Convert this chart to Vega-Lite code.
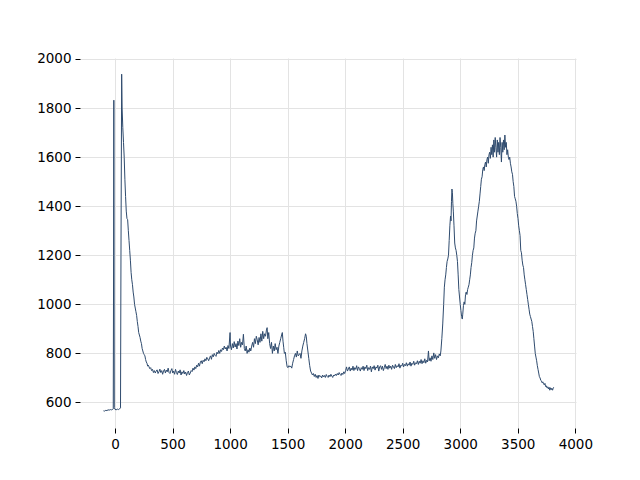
{
"$schema": "https://vega.github.io/schema/vega-lite/v6.json",
"width": 496, "height": 370,
"autosize": {"type": "none"},
"padding": {"left": 80, "top": 58, "right": 64, "bottom": 52},
"background": "white",
"config": {"view": {"stroke": null}, "font": "DejaVu Sans"},
"data": {"values": [
{"x":-100,"y":566},{"x":-90,"y":565},{"x":-80,"y":568},{"x":-70,"y":567},{"x":-60,"y":570},{"x":-50,"y":569},{"x":-40,"y":571},{"x":-30,"y":570},{"x":-20,"y":572},{"x":-15,"y":574},{"x":-12,"y":1200},{"x":-10,"y":1832},{"x":-8,"y":1200},{"x":-6,"y":580},
{"x":0,"y":572},{"x":10,"y":570},{"x":20,"y":573},{"x":30,"y":571},{"x":40,"y":574},{"x":48,"y":578},{"x":52,"y":1200},{"x":58,"y":1938},{"x":62,"y":1800},{"x":68,"y":1720},{"x":74,"y":1660},{"x":80,"y":1600},{"x":86,"y":1510},{"x":92,"y":1440},{"x":98,"y":1380},{"x":104,"y":1350},{"x":110,"y":1345},{"x":116,"y":1300},{"x":122,"y":1260},{"x":128,"y":1220},{"x":134,"y":1180},{"x":140,"y":1130},{"x":146,"y":1100},{"x":152,"y":1080},{"x":158,"y":1050},{"x":164,"y":1030},{"x":170,"y":1000},{"x":176,"y":985},{"x":182,"y":970},{"x":188,"y":955},{"x":194,"y":930},{"x":200,"y":910},{"x":206,"y":885},{"x":212,"y":875},{"x":218,"y":865},{"x":224,"y":850},{"x":230,"y":840},{"x":236,"y":820},{"x":242,"y":810},{"x":248,"y":800},{"x":254,"y":795},{"x":260,"y":790},{"x":266,"y":775},{"x":272,"y":765},{"x":278,"y":760},{"x":284,"y":748},{"x":290,"y":752},{"x":296,"y":745},{"x":302,"y":738},{"x":310,"y":742},{"x":318,"y":730},{"x":326,"y":735},{"x":334,"y":722},{"x":342,"y":730},{"x":350,"y":720},{"x":358,"y":728},{"x":366,"y":733},{"x":374,"y":718},{"x":382,"y":725},{"x":390,"y":736},{"x":398,"y":722},{"x":406,"y":730},{"x":414,"y":715},{"x":422,"y":728},{"x":430,"y":735},{"x":438,"y":720},{"x":446,"y":732},{"x":454,"y":725},{"x":462,"y":740},{"x":470,"y":722},{"x":478,"y":718},{"x":486,"y":730},{"x":494,"y":738},{"x":502,"y":720},{"x":510,"y":728},{"x":518,"y":715},{"x":526,"y":735},{"x":534,"y":722},{"x":542,"y":714},{"x":550,"y":728},{"x":558,"y":720},{"x":566,"y":733},{"x":574,"y":712},{"x":582,"y":725},{"x":590,"y":718},{"x":598,"y":730},{"x":606,"y":716},{"x":614,"y":724},{"x":622,"y":710},{"x":630,"y":722},{"x":638,"y":728},{"x":646,"y":712},{"x":654,"y":720},{"x":662,"y":730},{"x":670,"y":726},{"x":678,"y":740},{"x":686,"y":732},{"x":694,"y":745},{"x":702,"y":738},{"x":710,"y":752},{"x":718,"y":745},{"x":726,"y":760},{"x":734,"y":748},{"x":742,"y":765},{"x":750,"y":770},{"x":758,"y":758},{"x":766,"y":772},{"x":774,"y":766},{"x":782,"y":778},{"x":790,"y":770},{"x":798,"y":784},{"x":806,"y":778},{"x":814,"y":770},{"x":822,"y":782},{"x":830,"y":790},{"x":838,"y":776},{"x":846,"y":795},{"x":854,"y":786},{"x":862,"y":800},{"x":870,"y":792},{"x":878,"y":788},{"x":886,"y":805},{"x":894,"y":798},{"x":902,"y":812},{"x":910,"y":800},{"x":918,"y":815},{"x":926,"y":808},{"x":934,"y":822},{"x":942,"y":815},{"x":950,"y":830},{"x":958,"y":818},{"x":966,"y":825},{"x":974,"y":810},{"x":982,"y":832},{"x":990,"y":820},{"x":1000,"y":885},{"x":1004,"y":830},{"x":1012,"y":815},{"x":1020,"y":840},{"x":1028,"y":822},{"x":1036,"y":848},{"x":1044,"y":826},{"x":1052,"y":840},{"x":1060,"y":818},{"x":1068,"y":850},{"x":1076,"y":832},{"x":1084,"y":860},{"x":1092,"y":825},{"x":1100,"y":845},{"x":1108,"y":835},{"x":1116,"y":878},{"x":1124,"y":820},{"x":1132,"y":810},{"x":1140,"y":830},{"x":1148,"y":800},{"x":1156,"y":815},{"x":1164,"y":805},{"x":1172,"y":822},{"x":1180,"y":810},{"x":1188,"y":830},{"x":1196,"y":845},{"x":1204,"y":825},{"x":1212,"y":860},{"x":1220,"y":840},{"x":1228,"y":870},{"x":1236,"y":855},{"x":1244,"y":835},{"x":1252,"y":865},{"x":1260,"y":845},{"x":1268,"y":880},{"x":1276,"y":850},{"x":1284,"y":890},{"x":1292,"y":860},{"x":1300,"y":880},{"x":1308,"y":870},{"x":1316,"y":895},{"x":1322,"y":905},{"x":1328,"y":860},{"x":1336,"y":885},{"x":1344,"y":840},{"x":1352,"y":820},{"x":1360,"y":845},{"x":1368,"y":800},{"x":1376,"y":830},{"x":1384,"y":810},{"x":1392,"y":840},{"x":1400,"y":815},{"x":1408,"y":825},{"x":1416,"y":800},{"x":1424,"y":830},{"x":1432,"y":845},{"x":1440,"y":860},{"x":1448,"y":875},{"x":1454,"y":885},{"x":1460,"y":850},{"x":1466,"y":825},{"x":1472,"y":800},{"x":1480,"y":805},{"x":1488,"y":770},{"x":1496,"y":745},{"x":1504,"y":742},{"x":1512,"y":750},{"x":1520,"y":745},{"x":1528,"y":748},{"x":1536,"y":740},{"x":1544,"y":760},{"x":1552,"y":775},{"x":1560,"y":790},{"x":1568,"y":800},{"x":1576,"y":785},{"x":1584,"y":810},{"x":1592,"y":790},{"x":1600,"y":795},{"x":1608,"y":800},{"x":1616,"y":780},{"x":1624,"y":810},{"x":1632,"y":830},{"x":1640,"y":845},{"x":1648,"y":860},{"x":1656,"y":880},{"x":1662,"y":870},{"x":1668,"y":840},{"x":1676,"y":810},{"x":1684,"y":780},{"x":1692,"y":750},{"x":1700,"y":728},{"x":1708,"y":720},{"x":1716,"y":712},{"x":1724,"y":718},{"x":1732,"y":706},{"x":1740,"y":715},{"x":1748,"y":702},{"x":1756,"y":710},{"x":1764,"y":698},{"x":1772,"y":712},{"x":1780,"y":705},{"x":1788,"y":708},{"x":1796,"y":700},{"x":1804,"y":712},{"x":1812,"y":704},{"x":1820,"y":710},{"x":1828,"y":702},{"x":1836,"y":714},{"x":1844,"y":706},{"x":1852,"y":702},{"x":1860,"y":712},{"x":1868,"y":705},{"x":1876,"y":715},{"x":1884,"y":708},{"x":1892,"y":702},{"x":1900,"y":712},{"x":1908,"y":708},{"x":1916,"y":716},{"x":1924,"y":710},{"x":1932,"y":718},{"x":1940,"y":712},{"x":1948,"y":722},{"x":1956,"y":715},{"x":1964,"y":710},{"x":1972,"y":720},{"x":1980,"y":714},{"x":1988,"y":725},{"x":1996,"y":718},{"x":2004,"y":730},{"x":2012,"y":745},{"x":2020,"y":728},{"x":2028,"y":736},{"x":2036,"y":745},{"x":2044,"y":728},{"x":2052,"y":740},{"x":2060,"y":732},{"x":2068,"y":748},{"x":2076,"y":730},{"x":2084,"y":742},{"x":2092,"y":735},{"x":2100,"y":750},{"x":2108,"y":730},{"x":2116,"y":745},{"x":2124,"y":738},{"x":2132,"y":728},{"x":2140,"y":742},{"x":2148,"y":735},{"x":2156,"y":748},{"x":2164,"y":730},{"x":2172,"y":745},{"x":2180,"y":738},{"x":2188,"y":752},{"x":2196,"y":730},{"x":2204,"y":742},{"x":2212,"y":735},{"x":2220,"y":748},{"x":2228,"y":725},{"x":2236,"y":745},{"x":2244,"y":738},{"x":2252,"y":750},{"x":2260,"y":732},{"x":2268,"y":745},{"x":2276,"y":740},{"x":2284,"y":752},{"x":2292,"y":728},{"x":2300,"y":745},{"x":2308,"y":750},{"x":2316,"y":735},{"x":2324,"y":748},{"x":2332,"y":730},{"x":2340,"y":742},{"x":2348,"y":755},{"x":2356,"y":738},{"x":2364,"y":748},{"x":2372,"y":735},{"x":2380,"y":752},{"x":2388,"y":740},{"x":2396,"y":748},{"x":2404,"y":735},{"x":2412,"y":752},{"x":2420,"y":745},{"x":2428,"y":738},{"x":2436,"y":755},{"x":2444,"y":742},{"x":2452,"y":750},{"x":2460,"y":745},{"x":2468,"y":758},{"x":2476,"y":740},{"x":2484,"y":752},{"x":2492,"y":748},{"x":2500,"y":760},{"x":2508,"y":745},{"x":2516,"y":755},{"x":2524,"y":750},{"x":2532,"y":762},{"x":2540,"y":748},{"x":2548,"y":758},{"x":2556,"y":752},{"x":2564,"y":765},{"x":2572,"y":748},{"x":2580,"y":760},{"x":2588,"y":755},{"x":2596,"y":768},{"x":2604,"y":752},{"x":2612,"y":762},{"x":2620,"y":758},{"x":2628,"y":770},{"x":2636,"y":755},{"x":2644,"y":768},{"x":2652,"y":760},{"x":2660,"y":775},{"x":2668,"y":758},{"x":2676,"y":770},{"x":2684,"y":762},{"x":2692,"y":778},{"x":2700,"y":760},{"x":2708,"y":772},{"x":2716,"y":765},{"x":2724,"y":810},{"x":2730,"y":770},{"x":2738,"y":782},{"x":2746,"y":768},{"x":2754,"y":790},{"x":2762,"y":775},{"x":2770,"y":802},{"x":2778,"y":780},{"x":2786,"y":795},{"x":2794,"y":775},{"x":2802,"y":790},{"x":2810,"y":782},{"x":2818,"y":798},{"x":2826,"y":790},{"x":2832,"y":810},{"x":2840,"y":860},{"x":2848,"y":920},{"x":2856,"y":1000},{"x":2862,"y":1070},{"x":2868,"y":1100},{"x":2874,"y":1120},{"x":2880,"y":1150},{"x":2886,"y":1175},{"x":2892,"y":1185},{"x":2898,"y":1200},{"x":2904,"y":1260},{"x":2910,"y":1320},{"x":2916,"y":1360},{"x":2920,"y":1340},{"x":2924,"y":1420},{"x":2928,"y":1470},{"x":2932,"y":1455},{"x":2936,"y":1410},{"x":2940,"y":1380},{"x":2946,"y":1320},{"x":2952,"y":1250},{"x":2958,"y":1230},{"x":2964,"y":1220},{"x":2970,"y":1200},{"x":2976,"y":1175},{"x":2982,"y":1120},{"x":2988,"y":1060},{"x":2994,"y":1030},{"x":3000,"y":1000},{"x":3006,"y":975},{"x":3012,"y":950},{"x":3018,"y":940},{"x":3022,"y":960},{"x":3028,"y":995},{"x":3034,"y":1010},{"x":3040,"y":1000},{"x":3046,"y":1040},{"x":3052,"y":1050},{"x":3058,"y":1040},{"x":3064,"y":1060},{"x":3070,"y":1070},{"x":3076,"y":1080},{"x":3082,"y":1100},{"x":3088,"y":1120},{"x":3094,"y":1150},{"x":3100,"y":1170},{"x":3106,"y":1200},{"x":3112,"y":1220},{"x":3118,"y":1230},{"x":3124,"y":1270},{"x":3130,"y":1290},{"x":3136,"y":1300},{"x":3142,"y":1340},{"x":3148,"y":1360},{"x":3154,"y":1380},{"x":3160,"y":1400},{"x":3166,"y":1420},{"x":3172,"y":1450},{"x":3178,"y":1480},{"x":3184,"y":1510},{"x":3190,"y":1520},{"x":3196,"y":1550},{"x":3202,"y":1560},{"x":3208,"y":1545},{"x":3214,"y":1570},{"x":3220,"y":1580},{"x":3226,"y":1560},{"x":3232,"y":1590},{"x":3238,"y":1600},{"x":3244,"y":1575},{"x":3250,"y":1610},{"x":3256,"y":1620},{"x":3262,"y":1595},{"x":3268,"y":1640},{"x":3274,"y":1610},{"x":3280,"y":1650},{"x":3286,"y":1600},{"x":3292,"y":1670},{"x":3298,"y":1620},{"x":3304,"y":1680},{"x":3310,"y":1640},{"x":3316,"y":1600},{"x":3322,"y":1670},{"x":3328,"y":1620},{"x":3334,"y":1660},{"x":3340,"y":1610},{"x":3346,"y":1680},{"x":3352,"y":1640},{"x":3358,"y":1580},{"x":3364,"y":1660},{"x":3370,"y":1620},{"x":3376,"y":1670},{"x":3382,"y":1630},{"x":3388,"y":1690},{"x":3394,"y":1640},{"x":3400,"y":1660},{"x":3406,"y":1610},{"x":3412,"y":1630},{"x":3418,"y":1600},{"x":3424,"y":1590},{"x":3430,"y":1600},{"x":3436,"y":1575},{"x":3442,"y":1560},{"x":3448,"y":1540},{"x":3454,"y":1530},{"x":3460,"y":1500},{"x":3466,"y":1480},{"x":3472,"y":1440},{"x":3478,"y":1430},{"x":3484,"y":1420},{"x":3490,"y":1400},{"x":3496,"y":1370},{"x":3502,"y":1350},{"x":3508,"y":1320},{"x":3514,"y":1300},{"x":3520,"y":1280},{"x":3526,"y":1220},{"x":3532,"y":1210},{"x":3538,"y":1180},{"x":3544,"y":1160},{"x":3550,"y":1150},{"x":3556,"y":1120},{"x":3562,"y":1100},{"x":3568,"y":1080},{"x":3574,"y":1060},{"x":3580,"y":1040},{"x":3586,"y":1020},{"x":3592,"y":1000},{"x":3598,"y":980},{"x":3604,"y":960},{"x":3610,"y":950},{"x":3616,"y":940},{"x":3622,"y":930},{"x":3628,"y":910},{"x":3634,"y":890},{"x":3640,"y":860},{"x":3646,"y":830},{"x":3652,"y":800},{"x":3658,"y":785},{"x":3664,"y":770},{"x":3670,"y":750},{"x":3676,"y":735},{"x":3682,"y":720},{"x":3688,"y":705},{"x":3694,"y":700},{"x":3700,"y":690},{"x":3706,"y":688},{"x":3712,"y":680},{"x":3718,"y":684},{"x":3724,"y":676},{"x":3730,"y":672},{"x":3736,"y":678},{"x":3742,"y":665},{"x":3748,"y":668},{"x":3754,"y":660},{"x":3760,"y":664},{"x":3766,"y":655},{"x":3772,"y":662},{"x":3778,"y":650},{"x":3784,"y":660},{"x":3790,"y":652},{"x":3796,"y":658},{"x":3802,"y":650},{"x":3808,"y":658},{"x":3812,"y":662}
]},
"mark": {"type": "line", "color": "#2f4b6e", "strokeWidth": 1, "interpolate": "linear"},
"encoding": {
"x": {"field": "x", "type": "quantitative", "title": null,
  "scale": {"domain": [-304, 4006], "nice": false, "zero": false},
  "axis": {"values": [0,500,1000,1500,2000,2500,3000,3500,4000], "domain": false, "grid": true, "gridColor": "#e3e3e3", "gridWidth": 1, "tickColor": "#000000", "tickSize": 5, "labelPadding": 4, "labelFontSize": 13.5, "labelColor": "#000000", "labelFont": "DejaVu Sans", "labelFlush": false, "labelOverlap": false, "format": "d"}},
"y": {"field": "y", "type": "quantitative", "title": null,
  "scale": {"domain": [496, 2004], "nice": false, "zero": false},
  "axis": {"values": [600,800,1000,1200,1400,1600,1800,2000], "domain": false, "grid": true, "gridColor": "#e3e3e3", "gridWidth": 1, "tickColor": "#000000", "tickSize": 5, "labelPadding": 4, "labelFontSize": 13.5, "labelColor": "#000000", "labelFont": "DejaVu Sans", "labelFlush": false, "labelOverlap": false, "format": "d"}}
}
}
